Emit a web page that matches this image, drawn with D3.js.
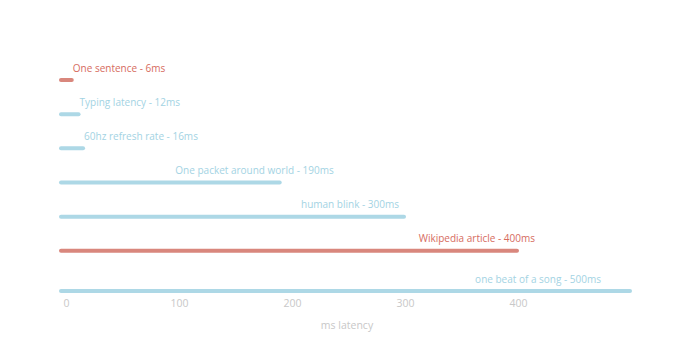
<!DOCTYPE html>
<html>
<head>
<meta charset="utf-8">
<script src="https://cdn.jsdelivr.net/npm/d3@7"></script>
<style>
  body { margin: 0; background: #fff; }
  text { font-family: "Open Sans", "DejaVu Sans", sans-serif; }
</style>
</head>
<body>
<svg id="chart" width="687" height="352"></svg>
<script>
// ---- data ----
const labels = ["One sentence", "Typing latency", "60hz refresh rate", "One packet around world", "human blink", "Wikipedia article", "one beat of a song"];
const values = [6, 12, 16, 190, 300, 400, 500];
const highlight = [true, false, false, false, false, true, false];
const xTicks = [0, 100, 200, 300, 400];
const xAxisTitle = "ms latency";

// ---- layout ----
const labelNudge = [0, 0, 0, 53, -6, 17, -30]; // fine label placement (px)
const RED = "#d9877d", RED_TEXT = "#d66b5e";
const BLUE = "#add8e6", BLUE_TEXT = "#a3d3e3";

const svg = d3.select("#chart");
const x = d3.scaleLinear().domain([0, 500]).range([66, 631]);
const y = d3.scalePoint().domain(labels).range([80, 285]);
const yPos = (d, i) => y(d) + (i === labels.length - 1 ? 6 : 0);

const rows = svg.append("g").selectAll("g").data(labels).join("g");

rows.append("rect")
  .attr("x", x(0) - 7)
  .attr("y", (d, i) => yPos(d, i) - 2)
  .attr("height", 4)
  .attr("width", (d, i) => x(values[i]) + 1 - (x(0) - 7))
  .attr("rx", 2).attr("ry", 2)
  .attr("fill", (d, i) => highlight[i] ? RED : BLUE);

rows.append("text")
  .attr("y", (d, i) => yPos(d, i) - 8.5)
  .attr("font-size", 10)
  .attr("fill", (d, i) => highlight[i] ? RED_TEXT : BLUE_TEXT)
  .text((d, i) => `${d} - ${values[i]}ms`)
  .each(function(d, i) {
    const w = this.getComputedTextLength();
    const xv = x(values[i]);
    const t = d3.select(this);
    if (xv - (x(0) - 7) < w) {
      t.attr("text-anchor", "start").attr("x", xv + labelNudge[i]);
    } else {
      t.attr("text-anchor", "end").attr("x", xv + labelNudge[i]);
    }
  });

const axis = svg.append("g")
  .attr("transform", "translate(0,298)")
  .call(d3.axisBottom(x).tickValues(xTicks).tickSize(0).tickPadding(2));
axis.select(".domain").remove();
axis.selectAll("text")
  .attr("font-size", 10.5)
  .attr("fill", "#c8c8c8")
  .style("font-family", '"Open Sans", "DejaVu Sans", sans-serif');

svg.append("text")
  .attr("x", 347).attr("y", 329)
  .attr("text-anchor", "middle")
  .attr("font-size", 10.5)
  .attr("fill", "#c8c8c8")
  .text(xAxisTitle);
</script>
</body>
</html>
